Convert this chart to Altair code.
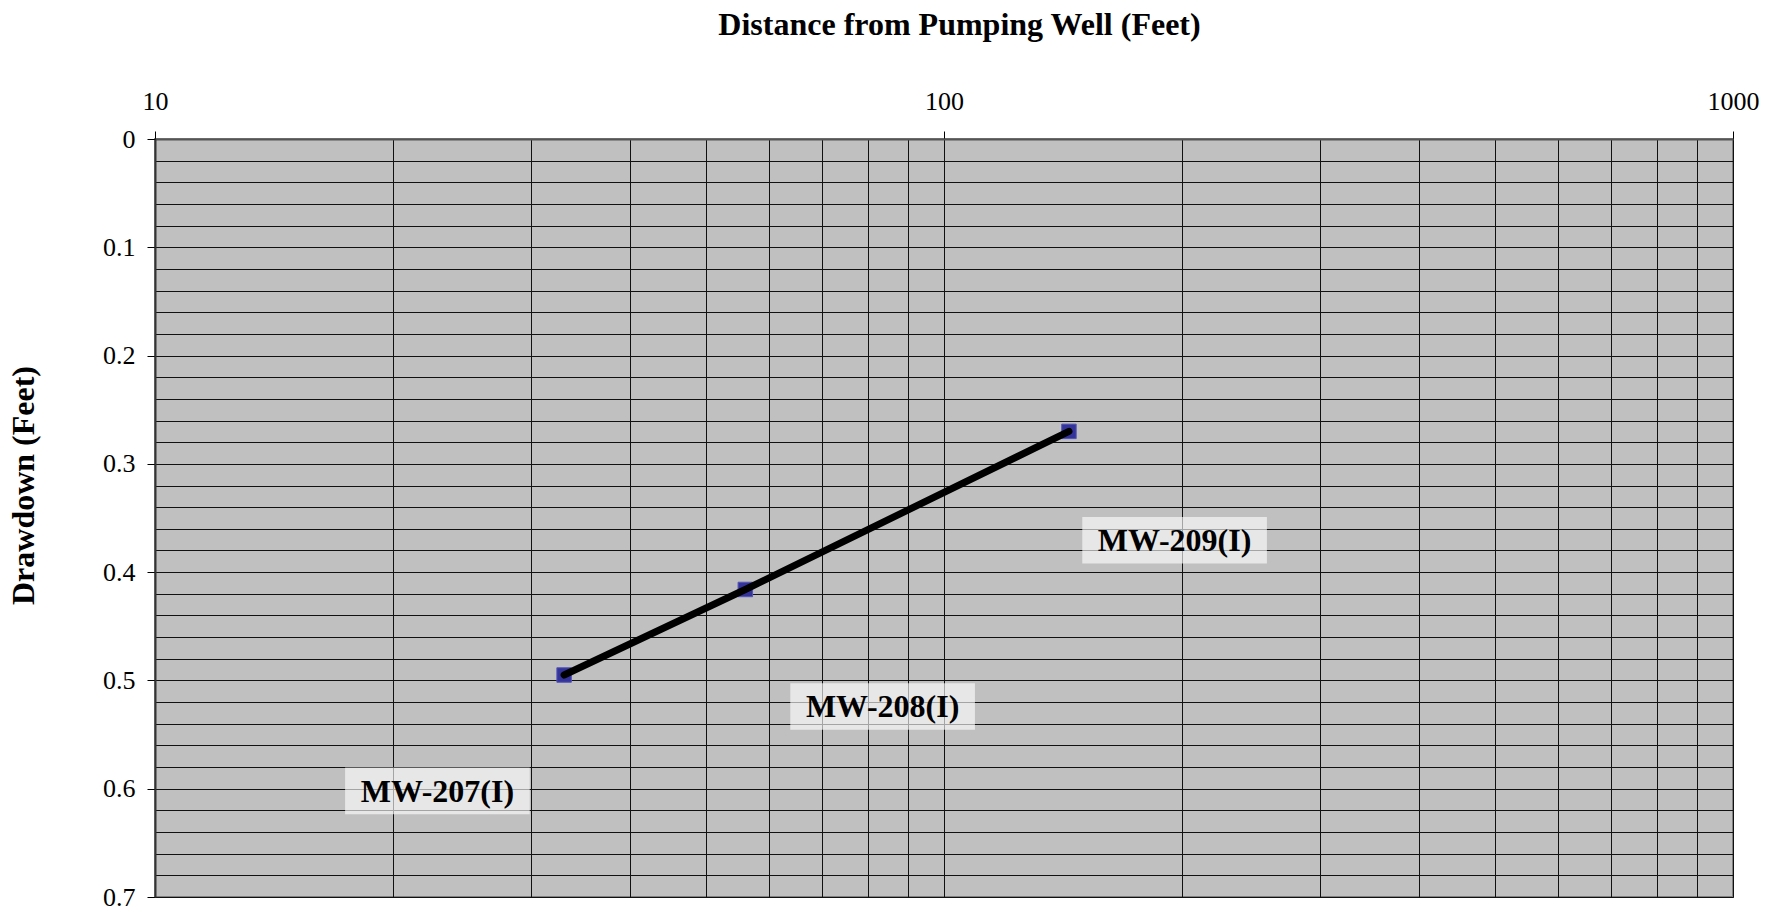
import altair as alt
import pandas as pd

# ---- data ----
wells = ["MW-207(I)", "MW-208(I)", "MW-209(I)"]
distance_ft = [33, 56, 144]
drawdown_ft = [0.495, 0.416, 0.27]

label_x = [22.8, 83.6, 196]
label_y = [0.602, 0.524, 0.3705]

x_grid = [10, 20, 30, 40, 50, 60, 70, 80, 90,
          100, 200, 300, 400, 500, 600, 700, 800, 900, 1000]
y_grid = [round(i * 0.02, 2) for i in range(36)]

FONT = "Liberation Serif"

pts = pd.DataFrame({"well": wells, "dist": distance_ft, "dd": drawdown_ft})
labs = pd.DataFrame({"well": wells, "lx": label_x, "ly": label_y})

xs = alt.Scale(type="log", domain=[10, 1000], nice=False)
ys = alt.Scale(domain=[0, 0.7], reverse=True, nice=False, zero=True)

decade_test = "indexof([10,100,1000], datum.value) >= 0"
tenth_test = "abs(datum.value*10 - round(datum.value*10)) < 0.001"

xaxis = alt.Axis(
    orient="top", values=x_grid,
    title="Distance from Pumping Well (Feet)",
    titleFont=FONT, titleFontSize=32, titleFontWeight="bold", titleColor="black",
    titlePadding=47, titleX=804,
    labelFont=FONT, labelFontSize=26, labelColor="black", labelPadding=17,
    labelExpr=decade_test + " ? '' + datum.value : ''",
    labelFlush=False, labelOverlap=False,
    tickSize=8, tickColor="black", tickWidth=1,
    tickOpacity={"condition": {"test": decade_test, "value": 1}, "value": 0},
    grid=True, gridColor="#111111", gridWidth=1, gridOpacity=1,
    domainColor="#555555", domainWidth=2,
)
yaxis = alt.Axis(
    orient="left", values=y_grid,
    title="Drawdown (Feet)",
    titleFont=FONT, titleFontSize=32, titleFontWeight="bold", titleColor="black",
    titlePadding=62, titleY=346,
    labelFont=FONT, labelFontSize=26, labelColor="black", labelPadding=12,
    labelExpr=tenth_test + " ? format(datum.value, '.1~f') : ''",
    labelOverlap=False,
    tickSize=8, tickColor="black", tickWidth=1,
    tickOpacity={"condition": {"test": tenth_test, "value": 1}, "value": 0},
    grid=True, gridColor="#111111", gridWidth=1, gridOpacity=1,
    domainColor="#333333", domainWidth=2,
)

boxes = alt.Chart(labs).transform_calculate(
    x1="datum.lx * pow(10, -0.117)",
    x2="datum.lx * pow(10, 0.117)",
    y1="datum.ly - 0.0215",
    y2="datum.ly + 0.0215",
).mark_rect(fill="white", opacity=0.62).encode(
    x=alt.X("x1:Q", scale=xs, axis=xaxis),
    x2="x2:Q",
    y=alt.Y("y1:Q", scale=ys, axis=yaxis),
    y2="y2:Q",
)

texts = alt.Chart(labs).mark_text(
    font=FONT, fontSize=32, fontWeight="bold", color="black",
    align="center", baseline="middle", dy=1,
).encode(
    x=alt.X("lx:Q", scale=xs, axis=xaxis),
    y=alt.Y("ly:Q", scale=ys, axis=yaxis),
    text="well:N",
)

points = alt.Chart(pts).mark_point(
    shape="square", filled=True, size=210, color="#333399",
    stroke="#5555bb", strokeWidth=1, opacity=1,
).encode(
    x=alt.X("dist:Q", scale=xs, axis=xaxis),
    y=alt.Y("dd:Q", scale=ys, axis=yaxis),
)

line = alt.Chart(pts).mark_line(color="black", strokeWidth=7, strokeCap="round").encode(
    x=alt.X("dist:Q", scale=xs, axis=xaxis),
    y=alt.Y("dd:Q", scale=ys, axis=yaxis),
    order="dist:Q",
)

chart = alt.layer(boxes, texts, points, line).properties(
    width=1578, height=758,
    autosize="none",
    padding={"left": 155, "top": 139, "right": 47, "bottom": 14},
    background="white",
).configure_view(
    fill="#c0c0c0", stroke="#808080", strokeWidth=2,
)

chart.save("out.html", embed_options={"renderer": "svg", "actions": False})
